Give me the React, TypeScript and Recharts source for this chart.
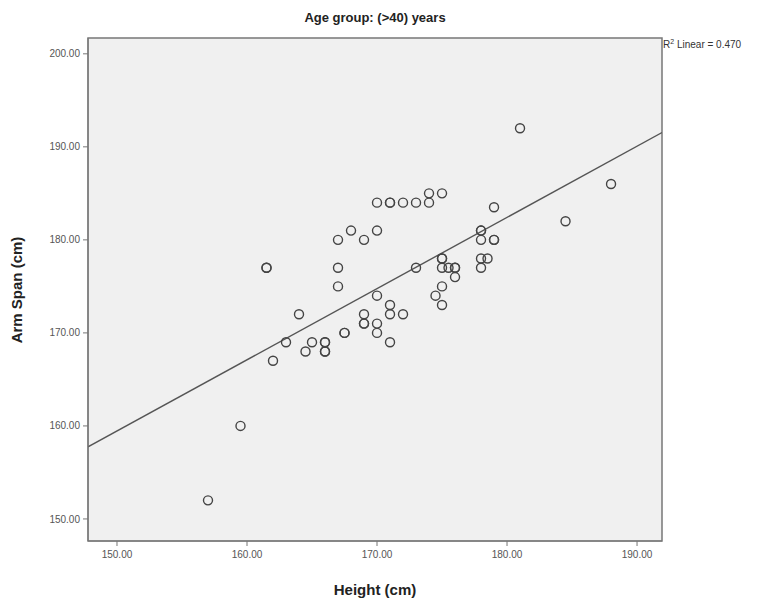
import React from 'react';
import {
  ScatterChart, Scatter, XAxis, YAxis, ZAxis, CartesianGrid,
  ReferenceArea, ReferenceLine,
} from 'recharts';

// height (cm) / arm span (cm) pairs
const heights = [
  181, 188, 184.5, 179, 175, 174, 174, 173, 172, 171, 171, 170, 170, 168, 169, 167,
  178, 178, 178, 179, 179, 178.5, 178, 178, 173, 175, 175, 175, 175.5, 176, 176, 176,
  175, 174.5, 175, 170, 171, 171, 172, 169, 169, 169, 170, 170, 167.5, 167.5, 171,
  165, 166, 166, 166, 166, 164.5, 163, 162, 164, 161.5, 161.5, 167, 167, 159.5, 157,
];
const armSpans = [
  192, 186, 182, 183.5, 185, 185, 184, 184, 184, 184, 184, 184, 181, 181, 180, 180,
  181, 181, 180, 180, 180, 178, 178, 177, 177, 178, 178, 177, 177, 177, 177, 176,
  175, 174, 173, 174, 173, 172, 172, 172, 171, 171, 171, 170, 170, 170, 169,
  169, 169, 169, 168, 168, 168, 169, 167, 172, 177, 177, 177, 175, 160, 152,
];

const xTicks = [150, 160, 170, 180, 190];
const yTicks = [150, 160, 170, 180, 190, 200];
const xDomain: [number, number] = [147.77, 191.92];
const yDomain: [number, number] = [147.63, 201.7];

const points = heights.map((h, i) => ({ x: h, y: armSpans[i] }));

// least squares fit for the "R2 Linear" line
const n = points.length;
const mx = heights.reduce((s, v) => s + v, 0) / n;
const my = armSpans.reduce((s, v) => s + v, 0) / n;
let sxy = 0;
let sxx = 0;
points.forEach((p) => {
  sxy += (p.x - mx) * (p.y - my);
  sxx += (p.x - mx) * (p.x - mx);
});
const slope = sxy / sxx;
const intercept = my - slope * mx;
const fitSegment = xDomain.map((x) => ({ x, y: intercept + slope * x }));

const font = '"Liberation Sans", Arial, sans-serif';
const fmt = (v: number) => v.toFixed(2);

export default function App() {
  return (
    <div style={{ position: 'absolute', left: 0, top: 0, width: 768, height: 603, background: '#fff', fontFamily: font, overflow: 'hidden' }}>
      <ScatterChart width={768} height={603} margin={{ top: 38, right: 106, bottom: 32, left: 28 }}>
        <CartesianGrid fill="#f0f0f0" horizontal={false} vertical={false} />
        <XAxis
          type="number" dataKey="x" domain={xDomain} ticks={xTicks} allowDataOverflow
          tickFormatter={fmt} height={30} tickSize={5} tickMargin={5}
          axisLine={{ stroke: '#777' }} tickLine={{ stroke: '#777' }}
          tick={{ fontSize: 10, fill: '#555', fontFamily: font }}
        />
        <YAxis
          type="number" dataKey="y" domain={yDomain} ticks={yTicks} allowDataOverflow
          tickFormatter={fmt} width={60} tickSize={5} tickMargin={3}
          axisLine={{ stroke: '#777' }} tickLine={{ stroke: '#777' }}
          tick={{ fontSize: 10, fill: '#555', fontFamily: font }}
        />
        <ZAxis range={[55, 55]} />
        <ReferenceArea x1={xDomain[0]} x2={xDomain[1]} y1={yDomain[0]} y2={yDomain[1]} fill="none" stroke="#777" strokeWidth={1.5} />
        <ReferenceLine segment={fitSegment} stroke="#555" strokeWidth={1.4} ifOverflow="hidden" />
        <Scatter data={points} fill="none" stroke="#444" strokeWidth={1.4} isAnimationActive={false} />
      </ScatterChart>

      <div style={{ position: 'absolute', left: 175, top: 10, width: 400, textAlign: 'center', fontSize: 13, fontWeight: 'bold', color: '#222', lineHeight: '16px' }}>
        Age group: (&gt;40) years
      </div>
      <div style={{ position: 'absolute', left: 663, top: 36, fontSize: 10, color: '#333', whiteSpace: 'nowrap', lineHeight: '12px' }}>
        R<sup style={{ fontSize: 7 }}>2</sup> Linear = 0.470
      </div>
      <div style={{ position: 'absolute', left: 175, top: 581, width: 400, textAlign: 'center', fontSize: 15, fontWeight: 'bold', color: '#222', lineHeight: '18px' }}>
        Height (cm)
      </div>
      <div style={{ position: 'absolute', left: -83, top: 280, width: 200, height: 20, textAlign: 'center', fontSize: 15, fontWeight: 'bold', color: '#222', lineHeight: '20px', transform: 'rotate(-90deg)' }}>
        Arm Span (cm)
      </div>
    </div>
  );
}
